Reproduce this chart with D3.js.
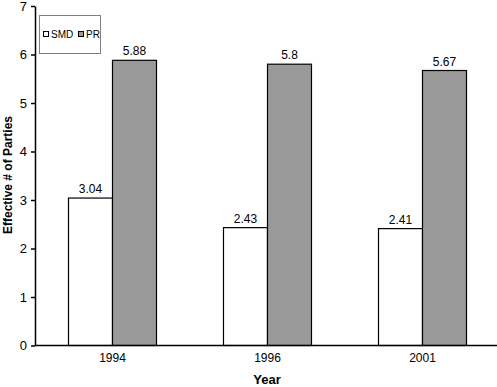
<!DOCTYPE html>
<html>
<head>
<meta charset="utf-8">
<script src="https://cdn.jsdelivr.net/npm/d3@7"></script>
<style>
  body { margin: 0; background: #fff; }
  svg { font-family: "Liberation Sans", Arial, sans-serif; }
</style>
</head>
<body>
<div id="chart"></div>
<script>
// data
var years = ["1994", "1996", "2001"];
var seriesNames = ["SMD", "PR"];
var smdValues = [3.04, 2.43, 2.41];
var prValues = [5.88, 5.8, 5.67];
var yTicks = [0, 1, 2, 3, 4, 5, 6, 7];

var width = 497;
var height = 387;

var colors = { SMD: "#ffffff", PR: "#999999" };

var svg = d3.select("#chart")
  .append("svg")
  .attr("width", width)
  .attr("height", height);

var x0 = d3.scaleBand().domain(years).range([35, 500]);
var x1 = d3.scaleBand().domain(seriesNames).range([x0.bandwidth() / 2 - 44, x0.bandwidth() / 2 + 44]);
var y = d3.scaleLinear().domain([0, 7]).range([345.5, 6]);

var rows = years.map((yr, i) => ({ year: yr, SMD: smdValues[i], PR: prValues[i] }));

var groups = svg.selectAll(".year")
  .data(rows)
  .enter().append("g")
  .attr("class", "year")
  .attr("transform", d => `translate(${x0(d.year)},0)`);

seriesNames.forEach(function(s) {
  groups.append("rect")
    .attr("x", x1(s))
    .attr("y", d => y(d[s]))
    .attr("width", x1.bandwidth())
    .attr("height", d => y(0) - y(d[s]))
    .style("fill", colors[s])
    .style("stroke", "#000")
    .style("stroke-width", 1.2);

  groups.append("text")
    .attr("x", x1(s) + x1.bandwidth() / 2)
    .attr("y", d => y(d[s]) - 5)
    .attr("text-anchor", "middle")
    .style("font-size", "12px")
    .text(d => d[s]);
});

// Y axis
var yAxis = d3.axisLeft(y).tickValues(yTicks).tickFormat(d3.format("d"))
  .tickSize(4).tickSizeOuter(0).tickPadding(4);
var yg = svg.append("g")
  .attr("transform", "translate(35,0)")
  .call(yAxis);
yg.selectAll("text").style("font-size", "13px").style("fill", "#000");
yg.selectAll("line, path").style("stroke", "#000").style("stroke-width", 1.5);

// X axis
var xAxis = d3.axisBottom(x0).tickSize(0).tickSizeOuter(0).tickPadding(8);
var xg = svg.append("g")
  .attr("transform", `translate(0,${y(0)})`)
  .call(xAxis);
xg.selectAll("text").style("font-size", "12px").style("fill", "#000");
xg.select("path").attr("d", `M35,0H497`).style("stroke", "#000").style("stroke-width", 1.5);

// axis titles
svg.append("text")
  .attr("x", 267)
  .attr("y", 384)
  .attr("text-anchor", "middle")
  .style("font-size", "13px")
  .style("font-weight", "bold")
  .text("Year");

svg.append("text")
  .attr("transform", "translate(12,175)rotate(-90)")
  .attr("text-anchor", "middle")
  .style("font-size", "12px")
  .style("font-weight", "bold")
  .text("Effective # of Parties");

// legend
svg.append("rect")
  .attr("x", 39.5)
  .attr("y", 15.5)
  .attr("width", 61)
  .attr("height", 38)
  .style("fill", "#fff")
  .style("stroke", "#808080")
  .style("stroke-width", 1);

var legendX = [43, 78];
seriesNames.forEach(function(s, i) {
  svg.append("rect")
    .attr("x", legendX[i] + 0.5)
    .attr("y", 31.5)
    .attr("width", 5)
    .attr("height", 5)
    .style("fill", colors[s])
    .style("stroke", "#000")
    .style("stroke-width", 1);
  svg.append("text")
    .attr("x", legendX[i] + 8)
    .attr("y", 38)
    .style("font-size", "10px")
    .text(s);
});
</script>
</body>
</html>
